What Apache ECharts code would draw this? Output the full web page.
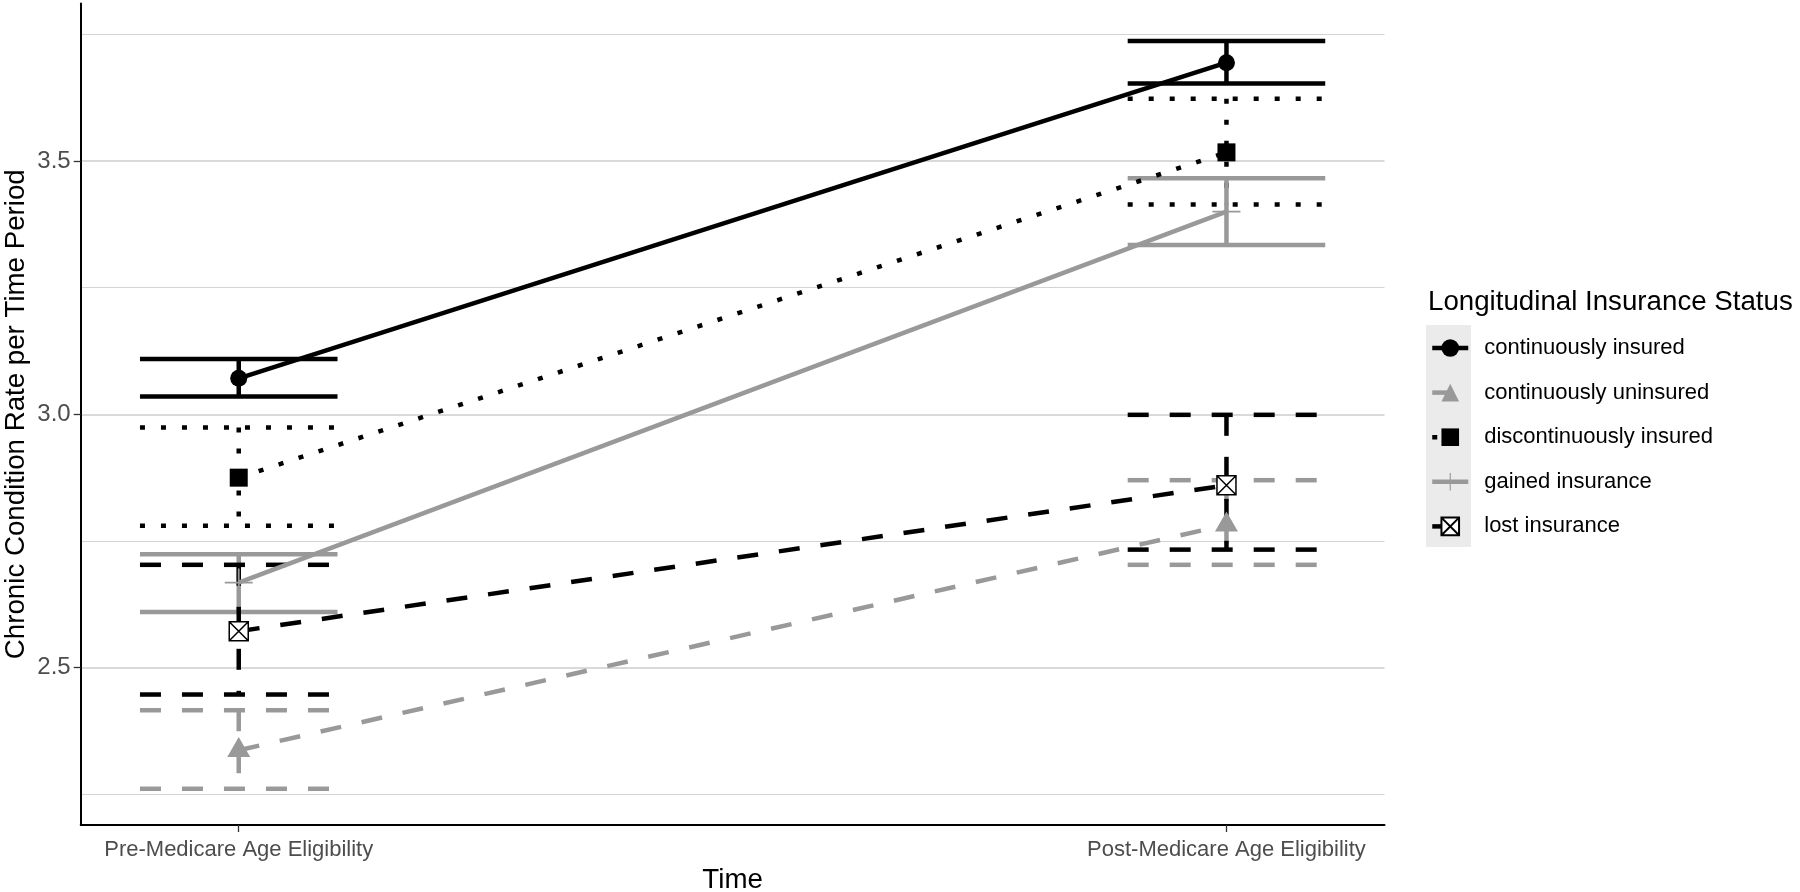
<!DOCTYPE html>
<html>
<head>
<meta charset="utf-8">
<script src="https://cdn.jsdelivr.net/npm/echarts@6/dist/echarts.min.js"></script>
<style>
  html, body { margin: 0; padding: 0; background: #ffffff; }
  #chart { width: 1800px; height: 892px; }
</style>
</head>
<body>
<div id="chart"></div>
<script>
// ---------------- data ----------------
const timeCategories = ['Pre-Medicare Age Eligibility', 'Post-Medicare Age Eligibility'];
const groupNames = ['continuously insured', 'continuously uninsured', 'discontinuously insured', 'gained insurance', 'lost insurance'];

// mean chronic condition rate per time period (Pre, Post)
const contInsuredMean   = [3.071, 3.694];
const contUninsuredMean = [2.337, 2.782];
const discontMean       = [2.875, 3.517];
const gainedMean        = [2.668, 3.400];
const lostMean          = [2.572, 2.860];

// lower / upper bounds of error bars (Pre, Post)
const contInsuredLow    = [3.035, 3.653];
const contInsuredHigh   = [3.109, 3.737];
const contUninsuredLow  = [2.261, 2.703];
const contUninsuredHigh = [2.416, 2.870];
const discontLow        = [2.780, 3.414];
const discontHigh       = [2.974, 3.623];
const gainedLow         = [2.610, 3.334];
const gainedHigh        = [2.724, 3.466];
const lostLow           = [2.447, 2.733];
const lostHigh          = [2.703, 2.999];

const yTickLabels = [2.5, 3.0, 3.5];
const yMinorGrid  = [2.25, 2.75, 3.25, 3.75];

// ---------------- styles ----------------
const FONT = 'Liberation Sans, Arial, Helvetica, sans-serif';
const BLACK = '#000000';
const GREY = '#999999';
const LW = 4.5;
const DASHED = [21, 21];
const DOTTED = [5, 16];
const CAP_HALF = 0.1; // half width of error bar caps (x units)

const styles = [
  { color: BLACK, dash: null,   symbol: 'circle', size: 17, offset: [0, 0] },
  { color: GREY,  dash: DASHED, symbol: 'triangle', size: [23, 20], offset: [0, -3.3] },
  { color: BLACK, dash: DOTTED, symbol: 'rect', size: 18, offset: [0, 0] },
  { color: GREY,  dash: null,   symbol: 'path://M0,13.1H28V14.9H0Z M13.1,0H14.9V28H13.1Z', size: 28, offset: [0, 0] },
  { color: BLACK, dash: DASHED, symbol: 'path://M0,0H20V20H0Z M0,0L20,20 M20,0L0,20', size: 19, offset: [0, 0], box: true }
];

const means = [contInsuredMean, contUninsuredMean, discontMean, gainedMean, lostMean];
const lows  = [contInsuredLow, contUninsuredLow, discontLow, gainedLow, lostLow];
const highs = [contInsuredHigh, contUninsuredHigh, discontHigh, gainedHigh, lostHigh];

// ---------------- series ----------------
const series = [];

// error bars (drawn first, below lines and points)
groupNames.forEach((name, g) => {
  const st = styles[g];
  const data = timeCategories.map((c, i) => [i + 1, lows[g][i], highs[g][i]]);
  const s = {
    type: 'custom',
    name: name,
    z: 2,
    silent: true,
    animation: false,
    encode: { x: 0, y: [1, 2] },
    data: data,
    renderItem: function (params, api) {
      const x = api.value(0), lo = api.value(1), hi = api.value(2);
      const style = { stroke: st.color, lineWidth: LW, lineDash: st.dash, lineCap: 'butt', fill: null };
      const tL = api.coord([x - CAP_HALF, hi]), tR = api.coord([x + CAP_HALF, hi]);
      const vT = api.coord([x, hi]), vB = api.coord([x, lo]);
      const bL = api.coord([x - CAP_HALF, lo]), bR = api.coord([x + CAP_HALF, lo]);
      return {
        type: 'group',
        children: [
          { type: 'line', shape: { x1: tL[0], y1: tL[1], x2: tR[0], y2: tR[1] }, style: style },
          { type: 'line', shape: { x1: vT[0], y1: vT[1], x2: vB[0], y2: vB[1] }, style: style },
          { type: 'line', shape: { x1: bL[0], y1: bL[1], x2: bR[0], y2: bR[1] }, style: style }
        ]
      };
    }
  };
  if (g === 0) {
    s.markLine = {
      silent: true,
      z: 0,
      symbol: ['none', 'none'],
      label: { show: false },
      animation: false,
      data: yTickLabels.map(v => ({ yAxis: v, lineStyle: { color: '#cccccc', width: 1.6, type: 'solid' } }))
        .concat(yMinorGrid.map(v => ({ yAxis: v, lineStyle: { color: '#d4d4d4', width: 1, type: 'solid' } })))
    };
  }
  series.push(s);
});

// connecting lines with points
const lineSeries = groupNames.map((name, g) => {
  const st = styles[g];
  return {
    type: 'line',
    name: name,
    z: 3,
    animation: false,
    silent: true,
    data: timeCategories.map((c, i) => [i + 1, means[g][i]]),
    symbol: st.symbol,
    symbolSize: st.size,
    symbolOffset: st.offset,
    showSymbol: true,
    lineStyle: { color: st.color, width: LW, type: st.dash ? st.dash : 'solid', cap: 'butt' },
    itemStyle: st.box ? { color: '#ffffff', borderColor: BLACK, borderWidth: 1.5 } : { color: st.color, borderWidth: 0 },
    emphasis: { disabled: true }
  };
});

const chart = echarts.init(document.getElementById('chart'), null, { renderer: 'canvas' });

chart.setOption({
  backgroundColor: '#ffffff',
  animation: false,
  textStyle: { fontFamily: FONT },
  title: {
    text: 'Longitudinal Insurance Status',
    left: 1428,
    top: 288,
    padding: 0,
    textStyle: { fontSize: 27.7, fontWeight: 'normal', color: '#000000', fontFamily: FONT, lineHeight: 28 }
  },
  legend: {
    orient: 'vertical',
    left: 1430,
    top: 337,
    padding: 0,
    itemWidth: 36,
    itemHeight: 22,
    itemGap: 22.6,
    selectedMode: false,
    data: groupNames,
    lineStyle: { width: LW },
    textStyle: { fontSize: 22, color: '#000000', fontFamily: FONT, lineHeight: 22, padding: [0, 0, 0, 11] }
  },
  graphic: [{
    type: 'rect',
    z: 0,
    silent: true,
    shape: { x: 1426, y: 325, width: 45, height: 222 },
    style: { fill: '#ebebeb' }
  }],
  grid: { left: 80.7, right: 415.5, top: 3.4, bottom: 67, containLabel: false, outerBoundsMode: 'none' },
  xAxis: {
    type: 'value',
    min: 0.84,
    max: 2.16,
    name: 'Time',
    nameLocation: 'middle',
    nameGap: 40,
    nameTextStyle: { fontSize: 27.7, color: '#000000', fontFamily: FONT },
    axisLine: { show: true, lineStyle: { color: '#000000', width: 2 } },
    axisTick: { show: true, customValues: [1, 2], length: 7, lineStyle: { color: '#333333', width: 1.3 } },
    axisLabel: {
      show: true,
      customValues: [1, 2],
      formatter: v => timeCategories[Math.round(v) - 1],
      margin: 14,
      fontSize: 22,
      color: '#4d4d4d',
      fontFamily: FONT
    },
    splitLine: { show: false }
  },
  yAxis: {
    type: 'value',
    min: 2.1895,
    max: 3.811,
    name: 'Chronic Condition Rate per Time Period',
    nameLocation: 'middle',
    nameGap: 50,
    nameMoveOverlap: false,
    nameRotate: 90,
    nameTextStyle: { fontSize: 27.7, color: '#000000', fontFamily: FONT },
    axisLine: { show: true, lineStyle: { color: '#000000', width: 2 } },
    axisTick: { show: true, customValues: yTickLabels, length: 7, lineStyle: { color: '#333333', width: 1.3 } },
    axisLabel: {
      show: true,
      customValues: yTickLabels,
      formatter: v => Number(v).toFixed(1),
      margin: 10,
      fontSize: 24,
      color: '#4d4d4d',
      fontFamily: FONT
    },
    splitLine: { show: false }
  },
  series: lineSeries.concat(series)
});
</script>
</body>
</html>
